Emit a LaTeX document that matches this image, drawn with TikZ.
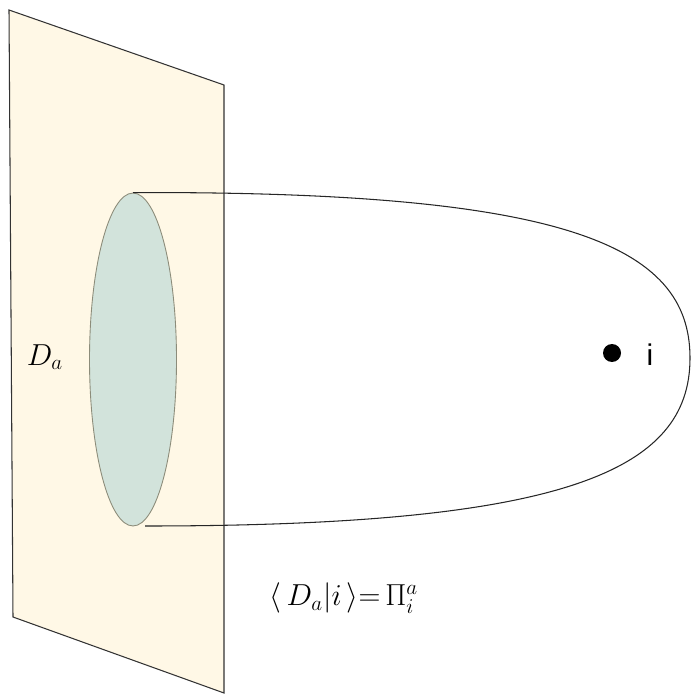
\documentclass[tikz,border=0pt]{standalone}
\usepackage{amsmath}
\usepackage{fontspec}
\newfontfamily\labelsans{Liberation Sans}
\usetikzlibrary{shapes.geometric,calc}

\definecolor{planefill}{HTML}{FFF8E6}
\definecolor{diskfill}{HTML}{D2E3DB}
\definecolor{diskline}{HTML}{8C8C7A}

\begin{document}
\begin{tikzpicture}[
    x=0.02cm, y=-0.02cm,
    plane/.style={
        draw=black!80,
        fill=planefill,
        line width=0.6pt
    },
    disk/.style={
        ellipse,
        draw=diskline,
        fill=diskfill,
        line width=0.5pt,
        minimum width=1.74cm,
        minimum height=6.66cm,
        inner sep=0pt
    },
    loop/.style={
        draw=black!85,
        line width=0.6pt
    },
    point/.style={
        circle,
        fill=black,
        minimum size=0.36cm,
        inner sep=0pt
    },
    mlabel/.style={
        font=\fontsize{17}{19}\selectfont
    }
]
\useasboundingbox (0,0) rectangle (691,695);

% Plane
\coordinate (pTL) at (9,10);
\coordinate (pTR) at (224,85);
\coordinate (pBR) at (224,693);
\coordinate (pBL) at (13,617);
\draw[plane] (pTL) -- (pTR) -- (pBR) -- (pBL) -- cycle;

% Disk on the plane
\node[disk] (da) at (133,359.5) {};
\node[mlabel] (dalabel) at (45,357) {$D_a$};

% Loop through the point i
\coordinate (tip) at (690,358);
\coordinate (lowend) at (145,526);
\draw[loop] (da.north) .. controls (565,191) and (690,245) .. (tip)
    .. controls (690,471) and (565,526) .. (lowend);

\node[point] (pi) at (612,353) {};
\node[font=\labelsans\fontsize{17}{19}\selectfont] (ilabel) at (650,355) {i};

% Projector
\node[mlabel] (proj) at (344,598) {$\langle\, D_a | i \,\rangle{=}\,\Pi_i^a$};

\end{tikzpicture}
\end{document}
